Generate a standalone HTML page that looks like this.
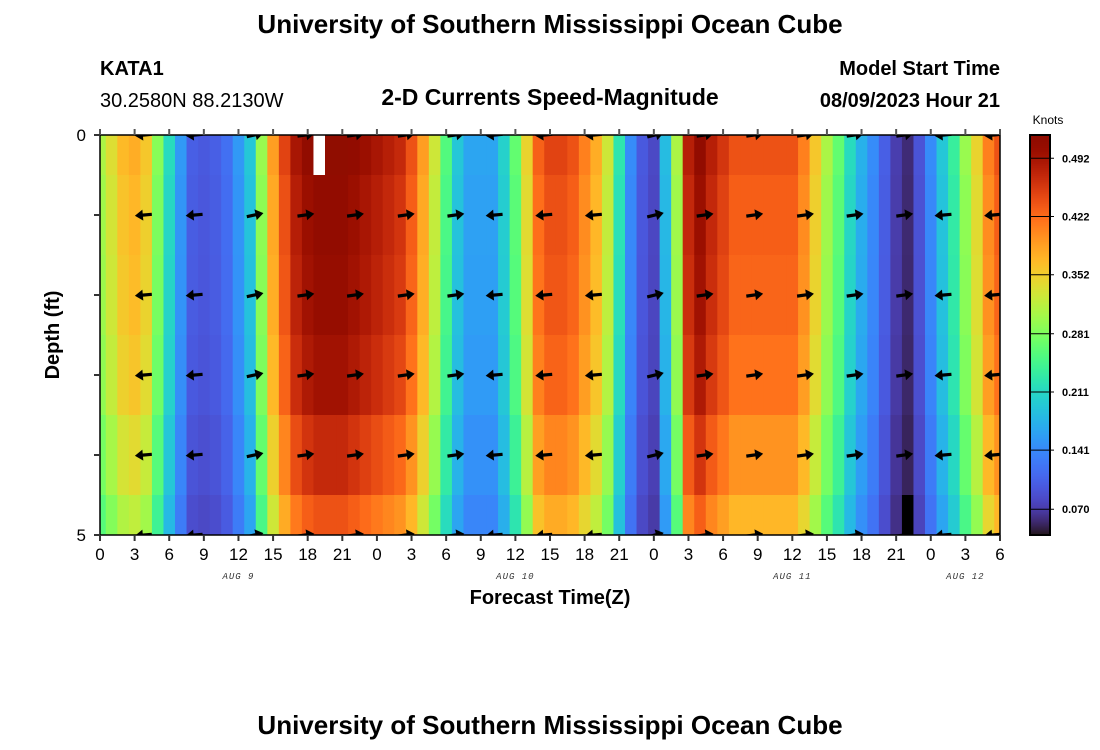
<!DOCTYPE html>
<html><head><meta charset="utf-8">
<style>
html,body{margin:0;padding:0;background:#fff;}
svg{display:block;font-family:"Liberation Sans",sans-serif;}
</style></head>
<body>
<svg id="chart" width="1100" height="750" viewBox="0 0 1100 750">
<text x="550" y="33" text-anchor="middle" font-size="26" font-weight="bold">University of Southern Mississippi Ocean Cube</text>
<text x="100" y="75" font-size="20" font-weight="bold">KATA1</text>
<text x="100" y="107" font-size="20">30.2580N  88.2130W</text>
<text x="550" y="105" text-anchor="middle" font-size="23" font-weight="bold">2-D Currents Speed-Magnitude</text>
<text x="1000" y="75" text-anchor="end" font-size="20" font-weight="bold">Model Start Time</text>
<text x="1000" y="107" text-anchor="end" font-size="20" font-weight="bold">08/09/2023 Hour 21</text>
<text x="550" y="734" text-anchor="middle" font-size="26" font-weight="bold">University of Southern Mississippi Ocean Cube</text>
<text x="550" y="604" text-anchor="middle" font-size="20" font-weight="bold">Forecast Time(Z)</text>
<text transform="translate(59,335) rotate(-90)" text-anchor="middle" font-size="20" font-weight="bold">Depth (ft)</text>
<text x="1048" y="124" text-anchor="middle" font-size="12">Knots</text>
<defs><clipPath id="pc"><rect x="100" y="135" width="900" height="400"/></clipPath></defs>
<g id="cells" clip-path="url(#pc)"></g>
<g id="arrows" clip-path="url(#pc)"></g>
<g id="axes"></g>
<g id="cbar"></g>
</svg>
<script>
// speed (knots) per forecast hour 0..78 at reference depth
const hourSpeeds = [0.30,0.33,0.36,0.37,0.35,0.28,0.21,0.15,0.10,0.095,0.10,0.115,0.15,0.19,0.29,0.38,0.44,0.48,0.50,0.51,0.51,0.51,0.50,0.49,0.48,0.47,0.46,0.43,0.38,0.32,0.25,0.19,0.16,0.16,0.16,0.20,0.26,0.34,0.42,0.44,0.44,0.43,0.40,0.37,0.32,0.22,0.14,0.095,0.08,0.18,0.30,0.47,0.50,0.47,0.45,0.43,0.43,0.43,0.43,0.43,0.43,0.40,0.35,0.30,0.26,0.21,0.17,0.14,0.10,0.07,0.055,0.09,0.14,0.19,0.23,0.29,0.34,0.40,0.43];
// depth rows (ft) and relative speed factor per depth
const depths = [0,1,2,3,4,5];
const depthFactor = [1.02,1.0,0.99,0.97,0.92,0.86];
// missing (white) and flagged (black) cells: [depthIndex, hour]
const missingCells = [[0,19]];
const flaggedCells = [[5,70]];
// vectors: hour and direction angle (deg, 0=east, ccw)
const arrowHours = [3.8,8.2,13.4,17.8,22.1,26.5,30.8,34.2,38.5,42.8,48.1,52.4,56.7,61.1,65.4,69.7,73.1,77.4];
const arrowAngles = [185,185,12,8,8,8,8,185,185,185,14,8,8,8,8,8,185,185];
const xTickLabels = ["0","3","6","9","12","15","18","21","0","3","6","9","12","15","18","21","0","3","6","9","12","15","18","21","0","3","6"];
const dateLabels = ["AUG 9","AUG 10","AUG 11","AUG 12"];
const dateHours = [12,36,60,75];
const cbarTicks = [0.070,0.141,0.211,0.281,0.352,0.422,0.492];
const vMin = 0.039, vMax = 0.52, hMax = 78, dMax = 5;
// colour scale: value -> colormap position
const scaleV = [0.039,0.070,0.141,0.211,0.281,0.352,0.422,0.492,0.52];
const scaleT = [0,0.06,0.17,0.30,0.47,0.63,0.78,0.93,1];

const NS="http://www.w3.org/2000/svg";
const X0=100,X1=1000,Y0=135,Y1=535;
const xs=h=>X0+(h/hMax)*(X1-X0);
const ys=d=>Y0+(d/dMax)*(Y1-Y0);
function turbo(t){t=Math.max(0,Math.min(1,t));
const r=0.13572138+t*(4.61539260+t*(-42.66032258+t*(132.13108234+t*(-152.94239396+t*59.28637943))));
const g=0.09140261+t*(2.19418839+t*(4.84296658+t*(-14.18503333+t*(4.27729857+t*2.82956604))));
const b=0.10667330+t*(12.64194608+t*(-60.58204836+t*(110.36276771+t*(-89.90310912+t*27.34824973))));
const c=v=>Math.round(Math.max(0,Math.min(1,v))*255);return `rgb(${c(r)},${c(g)},${c(b)})`;}
function vToT(v){if(v<=scaleV[0])return 0;for(let i=1;i<scaleV.length;i++){if(v<=scaleV[i]){const f=(v-scaleV[i-1])/(scaleV[i]-scaleV[i-1]);return scaleT[i-1]+f*(scaleT[i]-scaleT[i-1]);}}return 1;}
const col=v=>turbo(vToT(v));
function mk(tag,attrs,parent){const e=document.createElementNS(NS,tag);for(const k in attrs)e.setAttribute(k,attrs[k]);parent.appendChild(e);return e;}

const cells=document.getElementById('cells');
depths.forEach((d,di)=>{
  const ya=ys(Math.max(0,d-0.5)), yb=ys(Math.min(dMax,d+0.5));
  hourSpeeds.forEach((s,h)=>{
    const xa=xs(Math.max(0,h-0.5)), xb=xs(Math.min(hMax,h+0.5));
    let fill=col(s*depthFactor[di]);
    if(missingCells.some(m=>m[0]===di&&m[1]===h)) fill='#ffffff';
    if(flaggedCells.some(m=>m[0]===di&&m[1]===h)) fill='#000000';
    const r=mk('rect',{x:xa.toFixed(2),y:ya,width:(xb-xa+0.6).toFixed(2),height:yb-ya+0.6,fill:fill},cells);
    
    
  });
});
const arrows=document.getElementById('arrows');
depths.forEach(d=>{
  arrowHours.forEach((h,i)=>{
    const cx=xs(h), cy=ys(d);
    const g=mk('g',{transform:`translate(${cx},${cy}) rotate(${-arrowAngles[i]})`},arrows);
    
    
    mk('line',{x1:-8,y1:0,x2:4,y2:0,stroke:'#000','stroke-width':3.2},g);
    mk('polygon',{points:'9,0 1,-5.5 1,5.5',fill:'#000'},g);
  });
});
const axes=document.getElementById('axes');
mk('rect',{x:X0,y:Y0,width:X1-X0,height:Y1-Y0,fill:'none',stroke:'#000','stroke-width':1.5},axes);
xTickLabels.forEach((lab,i)=>{
  const x=xs(i*3);
  mk('line',{x1:x,y1:Y0,x2:x,y2:Y0-6,stroke:'#555','stroke-width':2},axes);
  mk('line',{x1:x,y1:Y1,x2:x,y2:Y1+6,stroke:'#333','stroke-width':2},axes);
  const t=mk('text',{x:x,y:Y1+25,'text-anchor':'middle','font-size':17},axes);
  t.textContent=lab;
  
  
});
dateLabels.forEach((lab,i)=>{
  const t=mk('text',{x:xs(dateHours[i]),y:Y1+44,'text-anchor':'middle','font-size':9,'font-style':'italic','font-family':'Liberation Mono, monospace','letter-spacing':1,fill:'#333'},axes);
  t.textContent=lab;
  
  
});
depths.forEach(d=>{
  const y=ys(d);
  mk('line',{x1:X0,y1:y,x2:X0-6,y2:y,stroke:'#333','stroke-width':2},axes);
  if(d===0||d===dMax){const t=mk('text',{x:86,y:y+6,'text-anchor':'end','font-size':17},axes);t.textContent=String(d);
  
  }
});
const cb=document.getElementById('cbar');
const CX=1030,CW=20;
const cbY=v=>Y1-(v-vMin)/(vMax-vMin)*(Y1-Y0);
for(let i=0;i<200;i++){const v=vMin+(vMax-vMin)*i/200;
  mk('rect',{x:CX,y:cbY(v+(vMax-vMin)/200),width:CW,height:2.6,fill:col(v)},cb);}
mk('rect',{x:CX,y:Y0,width:CW,height:Y1-Y0,fill:'none',stroke:'#000','stroke-width':2},cb);
cbarTicks.forEach(v=>{const y=cbY(v);
  mk('line',{x1:CX,y1:y,x2:CX+CW+4,y2:y,stroke:'#000','stroke-width':1},cb);
  const t=mk('text',{x:CX+32,y:y+4,'font-size':11,'font-weight':'bold'},cb);t.textContent=v.toFixed(3);
  
  
});
</script>
</body></html>
